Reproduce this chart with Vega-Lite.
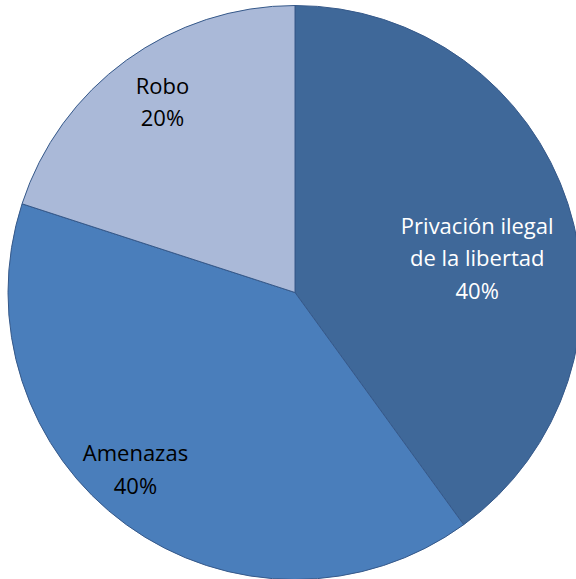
{
  "$schema": "https://vega.github.io/schema/vega-lite/v6.json",
  "autosize": "none",
  "width": 562,
  "height": 573,
  "padding": {"left": 14, "top": 6, "right": 0, "bottom": 0},
  "background": "white",
  "data": {"values": [
    {"idx": 1, "category": "Privación ilegal de la libertad", "value": 40, "label": "Privación ilegal\nde la libertad\n40%"},
    {"idx": 2, "category": "Amenazas", "value": 40, "label": "Amenazas\n40%"},
    {"idx": 3, "category": "Robo", "value": 20, "label": "Robo\n20%"}
  ]},
  "encoding": {
    "theta": {"field": "value", "type": "quantitative", "stack": true},
    "order": {"field": "idx", "type": "quantitative"}
  },
  "layer": [
    {
      "mark": {"type": "arc", "radius": 287, "stroke": "#36598A", "strokeWidth": 1},
      "encoding": {
        "color": {"field": "category", "type": "nominal", "legend": null,
          "scale": {"domain": ["Privación ilegal de la libertad", "Amenazas", "Robo"], "range": ["#3F6899", "#4A7EBB", "#AAB9D8"]}}
      }
    },
    {
      "mark": {"type": "text", "radius": 200, "dx": -8, "dy": -4, "lineBreak": "\n", "lineHeight": 32.5, "font": "Open Sans", "fontSize": 22, "color": "white", "align": "center", "baseline": "middle"},
      "encoding": {"text": {"condition": {"test": "datum.idx == 1", "field": "label"}, "value": ""}}
    },
    {
      "mark": {"type": "text", "radius": 200, "dx": -42, "dy": 0, "lineBreak": "\n", "lineHeight": 32.5, "font": "Open Sans", "fontSize": 22, "color": "black", "align": "center", "baseline": "middle"},
      "encoding": {"text": {"condition": {"test": "datum.idx == 2", "field": "label"}, "value": ""}}
    },
    {
      "mark": {"type": "text", "radius": 200, "dx": -15, "dy": -44, "lineBreak": "\n", "lineHeight": 32.5, "font": "Open Sans", "fontSize": 22, "color": "black", "align": "center", "baseline": "middle"},
      "encoding": {"text": {"condition": {"test": "datum.idx == 3", "field": "label"}, "value": ""}}
    }
  ]
}
